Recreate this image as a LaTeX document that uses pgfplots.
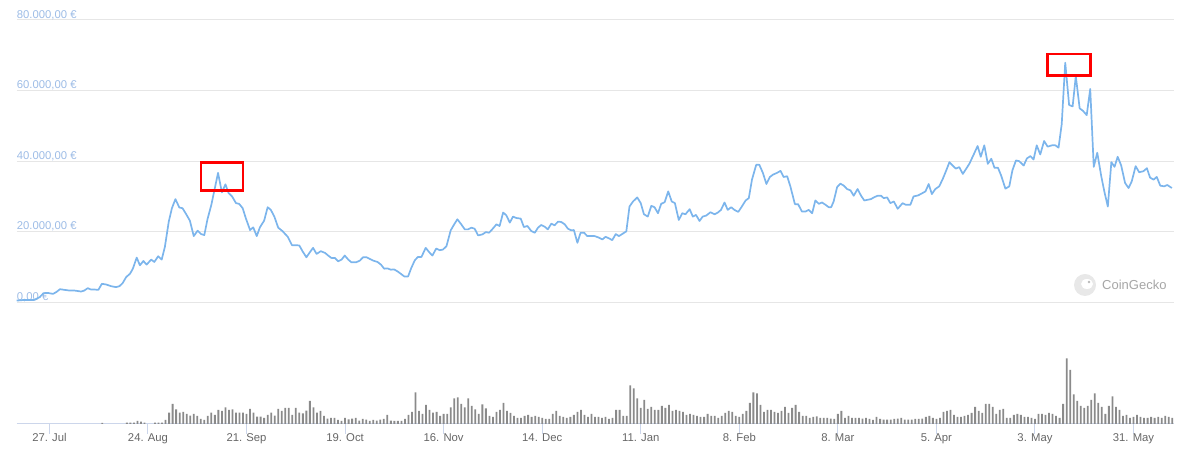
\documentclass[border=0pt]{standalone}
\usepackage{fontspec}
\setmainfont{Liberation Sans}
\usepackage{pgfplots}
\usepackage{pgfplotstable}
\pgfplotsset{compat=1.18}

\definecolor{priceblue}{HTML}{7CB5EC}
\definecolor{gridgray}{HTML}{E6E6E6}
\definecolor{axisblue}{HTML}{CCD6EB}
\definecolor{labelblue}{HTML}{9DBCE6}
\definecolor{labelgray}{HTML}{666666}
\definecolor{volgray}{HTML}{8A8A8A}

% price in EUR, x = days after 27 Jul
\pgfplotstableread{
d v
-9.3 480
-7.1 670
-4.3 670
-2.8 1430
-1.7 2570
-0.5 2670
1.0 2380
1.9 2860
3.0 3710
4.3 3520
5.7 3330
7.1 3330
9.0 3050
9.9 3330
10.9 4000
11.8 3620
12.8 3620
13.9 3520
14.9 5240
16.1 5050
17.5 4570
18.9 4290
19.9 4570
20.8 5430
21.8 7140
22.9 8100
23.7 9520
24.8 12670
25.7 10480
26.7 11710
27.6 10670
28.9 12100
29.8 11430
30.9 13050
31.9 12100
32.8 15710
33.9 22860
34.8 26670
35.8 29240
36.9 26860
37.8 26670
38.8 25050
39.9 23140
41.0 18760
42.1 20290
43.1 19330
44.0 19050
44.9 23520
46.0 27620
46.9 31900
47.9 36670
49.0 31140
50.0 33430
50.9 30950
51.9 30000
53.0 28100
53.9 27900
54.9 26670
55.8 23810
57.0 20480
57.9 21240
58.9 18760
59.8 21240
61.0 23140
62.0 26950
62.9 26190
63.9 24290
65.0 21140
66.2 20190
67.7 18570
68.9 16190
70.0 16190
71.0 16100
71.9 14480
73.0 12760
74.0 14190
74.9 15430
75.9 13710
77.1 14480
78.3 14000
79.2 13240
80.1 12570
81.1 12570
82.0 11620
83.0 12100
83.9 13240
84.9 12100
85.8 11330
87.1 11330
88.2 11810
89.1 12760
90.1 12760
91.0 12290
92.0 11810
93.2 11430
94.2 10670
95.1 9520
96.0 9620
97.0 9240
97.9 9330
98.9 8760
99.8 8100
100.8 7330
101.9 7330
102.8 9710
103.8 11900
104.7 12860
105.7 12860
106.9 15430
107.9 14190
108.8 13240
109.9 15240
110.9 14760
111.8 14950
112.8 15900
114.0 20380
115.0 22100
115.9 23520
117.0 22100
118.0 20670
118.9 20670
119.9 21140
120.8 20860
121.8 18950
123.0 19240
124.0 19900
124.9 19710
125.8 20670
127.0 22100
127.9 21620
128.9 25430
129.8 24670
130.8 22570
131.7 24290
132.6 23900
133.9 23710
134.8 21330
135.8 21620
136.9 20190
137.9 19710
138.8 21140
139.7 21900
140.7 21430
141.6 20670
142.6 22290
143.5 21810
144.5 22860
145.4 22760
146.4 22100
147.3 20860
148.3 20380
149.0 20480
150.0 16860
150.9 19710
151.9 19710
152.8 18760
153.9 18760
154.9 18760
156.1 18330
157.1 17810
158.0 18570
159.0 18100
159.9 17620
160.9 19330
161.8 18760
162.7 19330
163.9 20100
164.8 27140
165.8 28570
167.0 29710
168.0 28100
168.9 24950
170.0 24290
171.0 27330
171.9 26950
172.9 25240
173.8 27900
174.8 28380
175.8 31430
176.8 28570
177.7 28100
178.8 23330
179.8 25240
180.7 24950
181.9 26380
182.8 24290
183.7 24760
184.7 23050
185.6 24290
186.6 24570
187.8 25520
189.0 24950
189.9 25430
190.8 26190
191.8 28290
192.7 26190
193.7 26950
194.6 26190
195.7 25620
196.6 26950
197.8 28860
198.7 29520
199.6 34760
200.8 38950
201.7 38950
202.7 36670
203.7 33520
204.7 35520
205.6 36190
206.7 36670
207.7 37240
208.6 35520
209.6 35710
210.5 32860
211.8 27810
212.7 27810
213.8 25710
214.8 25710
215.7 26190
216.7 25240
217.6 28860
218.6 27900
219.5 28290
220.5 27620
221.4 26950
222.1 26950
222.8 28570
223.8 32670
224.7 33620
225.7 33050
226.6 32100
227.6 31710
228.5 30190
229.6 32100
230.6 30190
231.5 28860
232.5 29050
233.4 29240
234.4 29810
235.3 30190
236.3 30190
237.0 29520
238.0 29710
238.9 28100
239.9 28570
241.0 26500
242.4 28100
243.3 27620
244.6 27620
245.5 30000
246.8 30290
247.7 30760
248.9 31430
249.8 33520
250.7 30670
251.7 32100
252.8 32860
253.8 34950
254.7 37140
255.7 39710
256.6 38760
257.5 37900
258.5 38290
259.5 36380
260.5 37900
261.4 39330
262.6 41900
263.7 44290
264.6 41240
265.6 44480
266.6 39240
267.6 40670
268.5 38100
269.5 38100
270.4 35900
271.6 32190
272.7 32860
273.6 37430
274.6 40190
275.5 40000
276.8 38760
277.7 40760
278.7 41430
279.6 40480
280.5 44480
281.5 41900
282.6 45710
283.6 44100
284.8 44480
285.8 44480
286.7 43810
287.6 50480
288.6 67900
289.7 55900
290.7 55520
291.6 64100
292.7 54950
293.6 54290
294.7 53050
295.7 60480
296.7 38380
297.7 42380
298.8 35900
299.7 31430
300.7 27140
301.7 39710
302.6 38380
303.5 41240
304.5 38760
305.6 33810
306.6 32380
307.5 34290
308.6 38570
309.6 36860
310.8 37140
311.8 38000
312.7 35330
313.7 34760
314.6 35520
315.6 33050
316.7 32860
317.6 33240
318.9 32380
}\price

% daily volume, relative units
\pgfplotstableread{
d vol
15 1
22 1.3
23 1.3
24 1.3
25 3
26 2.3
27 1.3
30 1.3
31 1.3
32 1.3
33 4
34 11.3
35 20
36 14.7
37 11.3
38 12
39 10
40 8.3
41 10
42 8
43 5
44 4
45 8
46 11.3
47 9
48 14
49 13
50 16.7
51 14
52 14.7
53 11.3
54 11.3
55 11.3
56 10
57 15
58 11.3
59 7.3
60 7.3
61 6
62 9
63 11.3
64 8.3
65 15
66 13
67 16
68 16
69 9
70 16
71 11.3
72 10.7
73 13.3
74 23
75 16.7
76 11.3
77 13
78 8
79 5.3
80 6
81 6
82 4
83 3
84 6
85 4.7
86 5.3
87 6
88 3.3
89 5
90 4.3
91 3
92 4
93 3.3
94 4.3
95 5
96 9
97 3.3
98 3
99 3
100 3
101 5
102 9
103 12
104 31.7
105 13
106 10
107 19
108 14
109 11.3
110 12
111 8
112 10
113 10
114 16.7
115 25.7
116 26.7
117 20
118 16.7
119 25.7
120 18
121 14.7
122 10
123 19.7
124 15.7
125 8
126 7
127 12
128 14
129 21
130 13
131 11
132 8
133 6
134 6
135 8
136 9
137 7
138 8
139 7
140 6
141 5
142 5
143 10
144 13
145 8
146 7
147 6
148 7
149 9
150 12
151 14
152 9
153 7
154 10
155 7
156 7
157 6
158 7
159 5
160 6
161 14
162 14
163 8
164 8
165 38.7
166 35.7
167 25.7
168 16
169 24
170 15
171 17
172 14
173 14
174 18
175 16
176 19
177 13
178 14
179 13
180 12
181 9
182 10
183 9
184 8
185 7
186 7
187 10
188 8
189 8
190 6
191 8
192 11
193 13
194 12
195 8
196 7
197 10
198 13
199 21
200 31.7
201 30.7
202 19
203 12
204 14
205 14
206 12
207 11
208 13
209 17
210 11
211 16
212 19
213 12
214 8
215 8
216 6
217 7
218 7.7
219 6
220 6
221 6
222 5.3
223 5
224 10
225 13
226 6
227 8
228 6
229 6
230 6
231 5.3
232 6
233 5
234 4
235 7
236 5
237 4.3
238 4.3
239 4.3
240 5
241 5.3
242 6
243 4.3
244 4.3
245 4.3
246 5
247 5
248 5.3
249 7
250 8
251 6
252 5
253 6
254 12
255 13
256 14
257 9
258 7
259 7
260 8
261 9
262 11
263 17
264 13
265 11
266 20
267 20
268 17
269 10
270 14
271 15
272 6
273 6
274 9
275 10
276 9
277 7
278 7
279 6
280 5
281 10
282 10
283 9
284 11
285 10
286 8
287 6
288 20
289 65.7
290 54
291 29.7
292 23
293 18
294 16
295 18
296 24
297 30.7
298 21
299 17
300 10
301 18
302 27.7
303 17
304 14
305 8
306 9
307 6
308 7
309 9
310 7
311 6
312 6
313 7
314 6
315 7
316 6
317 8
318 7
319 6
}\volume

\begin{document}
\begin{tikzpicture}[x=1pt,y=1pt]
\path[use as bounding box] (0,0) rectangle (1200,462);

% price panel
\begin{axis}[
  at={(16.7pt,159.7pt)}, anchor=south west,
  scale only axis, width=1157.3pt, height=282.3pt,
  xmin=-9.3, xmax=319.5, ymin=0, ymax=80000,
  axis line style={draw=none},
  xtick=\empty,
  ytick={0,20000,40000,60000,80000},
  scaled y ticks=false,
  yticklabels={{0,00 €},{20.000,00 €},{40.000,00 €},{60.000,00 €},{80.000,00 €}},
  major tick length=0pt,
  ymajorgrids,
  major grid style={gridgray, line width=1pt},
  yticklabel style={anchor=base west, inner sep=0pt, yshift=1.8pt,
    text=labelblue, font=\fontsize{11.3}{13}\selectfont},
]
\addplot[priceblue, line width=1.7pt, line join=round, mark=none]
  table[x=d, y=v]{\price};
\draw[red, line width=2.5pt] (axis cs:43.05,31630) rectangle (axis cs:55.04,39560);
\draw[red, line width=2.5pt] (axis cs:283.5,64220) rectangle (axis cs:295.8,70370);
\end{axis}

% volume panel
\begin{axis}[
  at={(16.7pt,38pt)}, anchor=south west,
  scale only axis, width=1157.3pt, height=84pt,
  xmin=-9.3, xmax=319.5, ymin=0, ymax=84,
  axis x line*=bottom, axis y line=none,
  x axis line style={axisblue, line width=1pt},
  xtick={0,28,...,308},
  xticklabels={27. Jul,24. Aug,21. Sep,19. Oct,16. Nov,14. Dec,11. Jan,8. Feb,8. Mar,5. Apr,3. May,31. May},
  tick align=outside, major tick length=10pt,
  tick style={axisblue, line width=1pt},
  xticklabel style={text=labelgray, yshift=4pt, font=\fontsize{11.3}{13}\selectfont},
]
\addplot[ybar, bar width=1.8pt, fill=volgray, draw=none]
  table[x=d, y=vol]{\volume};
\end{axis}

% CoinGecko mark
\fill[gray!18] (1085,177) circle (11);
\fill[white] (1087,178) ellipse (6 and 5);
\fill[gray!55] (1089,180) circle (1.4);
\node[anchor=west, text=gray!70, font=\fontsize{13}{15}\selectfont, inner sep=0pt]
  at (1102,177) {CoinGecko};
\end{tikzpicture}
\end{document}
